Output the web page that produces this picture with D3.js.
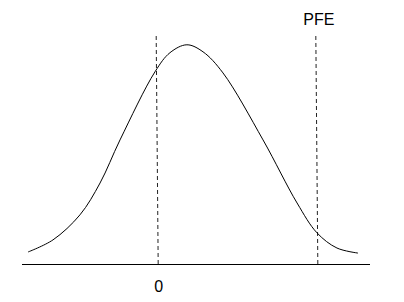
<!DOCTYPE html>
<html>
<head>
<meta charset="utf-8">
<script src="https://cdn.jsdelivr.net/npm/d3@7"></script>
<style>
  html, body { margin: 0; padding: 0; background: #fff; }
  svg { display: block; font-family: "Liberation Sans", Arial, sans-serif; }
</style>
</head>
<body>
<svg id="chart" width="404" height="302"></svg>
<script>
// DATA
const exposure = [-0.812, -0.656, -0.487, -0.361, -0.236, -0.017, 0.077, 0.183,
  0.284, 0.409, 0.660, 0.873, 0.998, 1.123, 1.255];
const density = [0.057, 0.112, 0.226, 0.371, 0.567, 0.877, 0.964, 1.0,
  0.968, 0.872, 0.567, 0.280, 0.144, 0.075, 0.052];
const markers = [0, 1];
const markerLabels = ["0", "PFE"];

// CANVAS SETUP
const svg = d3.select("#chart");
const margin = { top: 36, right: 34, bottom: 37.5, left: 22 },
  width = +svg.attr("width") - margin.left - margin.right,
  height = +svg.attr("height") - margin.top - margin.bottom;

const g = svg.append("g").attr("transform", `translate(${margin.left},${margin.top})`);

const xScale = d3.scaleLinear().domain([-0.85, 1.33]).range([0, width]);
const yScale = d3.scaleLinear().domain([0, 1.04]).range([height, 0]);

const data = exposure.map((x, i) => ({ x, y: density[i] }));

// baseline axis
g.append("line")
  .attr("x1", 0)
  .attr("x2", width)
  .attr("y1", height)
  .attr("y2", height)
  .attr("stroke", "#000")
  .attr("stroke-width", 1.2);

// dashed markers
g.selectAll("line.marker")
  .data(markers)
  .join("line")
  .attr("class", "marker")
  .attr("x1", (d) => xScale(d) - 1.5)
  .attr("x2", (d) => xScale(d) + 0.5)
  .attr("y1", 0)
  .attr("y2", height)
  .attr("stroke", "#222")
  .attr("stroke-width", 1)
  .attr("stroke-dasharray", "4,3");

// distribution curve
const line = d3
  .line()
  .x((d) => xScale(d.x))
  .y((d) => yScale(d.y))
  .curve(d3.curveCatmullRom.alpha(0.5));

g.append("path")
  .datum(data)
  .attr("fill", "none")
  .attr("stroke", "#000")
  .attr("stroke-width", 1)
  .attr("d", line);

// labels
g.append("text")
  .attr("x", xScale(markers[0]) + 1)
  .attr("y", height + 27)
  .attr("text-anchor", "middle")
  .attr("font-size", 16)
  .attr("fill", "#000")
  .text(markerLabels[0]);

g.append("text")
  .attr("x", xScale(markers[1]) + 1.5)
  .attr("y", -11)
  .attr("text-anchor", "middle")
  .attr("font-size", 16)
  .attr("fill", "#000")
  .text(markerLabels[1]);
</script>
</body>
</html>
